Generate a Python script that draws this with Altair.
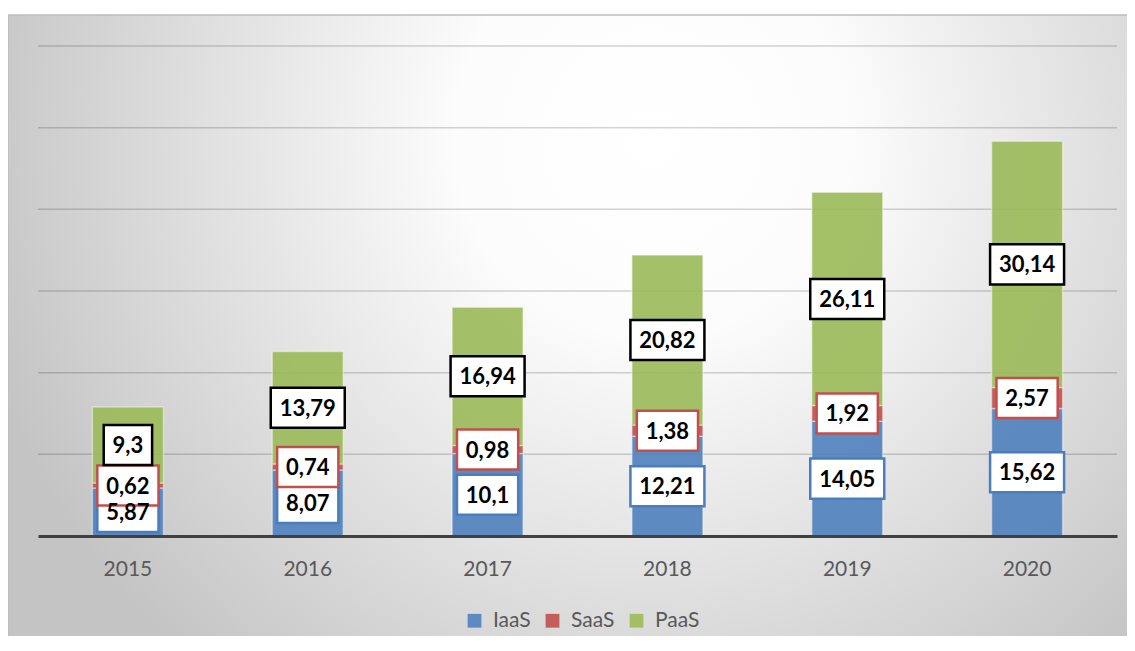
import altair as alt
import pandas as pd

years = ["2015", "2016", "2017", "2018", "2019", "2020"]
series = ["IaaS", "SaaS", "PaaS"]
iaas = [5.87, 8.07, 10.1, 12.21, 14.05, 15.62]
saas = [0.62, 0.74, 0.98, 1.38, 1.92, 2.57]
paas = [9.3, 13.79, 16.94, 20.82, 26.11, 30.14]
gridvals = [10, 20, 30, 40, 50, 60]

colors = ["#4f81bd", "#c0504d", "#9bbb59"]
box_strokes = ["#4a7ebb", "#c0504d", "#000000"]

rows = []
for i, y in enumerate(years):
    base = 0.0
    for k, (s, vals) in enumerate(zip(series, [iaas, saas, paas])):
        v = vals[i]
        rows.append({"year": y, "series": s, "value": v, "ord": k,
                     "mid": base + v / 2, "label": str(v).replace(".", ",")})
        base += v
df = pd.DataFrame(rows)

FONT = "Lato"
W, H = 1079, 490

xenc = alt.X("year:N", title=None, sort=years,
             scale=alt.Scale(paddingInner=0.605, paddingOuter=0.3025),
             axis=alt.Axis(labelAngle=0, ticks=False, domainColor="#404040", domainWidth=3,
                           labelColor="#595959", labelFont=FONT, labelFontSize=21,
                           labelPadding=22, zindex=1, grid=False))
yscale = alt.Scale(domain=[0, 60], nice=False, zero=True)

bg = alt.Chart(pd.DataFrame({"a": [0]})).mark_rect(
    fill={"gradient": "radial", "x1": 0.57, "y1": 0.32, "r1": 0,
          "x2": 0.57, "y2": 0.32, "r2": 0.62,
          "stops": [{"offset": 0, "color": "#ffffff"},
                    {"offset": 0.28, "color": "#fcfcfc"},
                    {"offset": 1, "color": "#c4c4c4"}]},
    stroke="#bdbdbd", strokeWidth=1.5
).encode(x=alt.value(-30), x2=alt.value(1100), y=alt.value(-31), y2=alt.value(620))

grid = alt.Chart(pd.DataFrame({"g": gridvals})).mark_rule(
    stroke="#000000", strokeOpacity=0.17, strokeWidth=1.5
).encode(y=alt.Y("g:Q", scale=yscale, axis=None))

bars = alt.Chart(df).mark_bar(opacity=0.9, stroke="#ffffff", strokeOpacity=0.45, strokeWidth=1.5).encode(
    x=xenc,
    y=alt.Y("value:Q", stack="zero", scale=yscale, axis=None),
    color=alt.Color("series:N", sort=series,
                    scale=alt.Scale(domain=series, range=colors),
                    legend=alt.Legend(title=None, orient="none", legendX=426, legendY=564,
                                      direction="horizontal", symbolType="square",
                                      symbolSize=190, symbolStrokeWidth=0, symbolOpacity=0.9,
                                      labelFont=FONT, labelFontSize=21, labelColor="#595959",
                                      labelOffset=8, columnPadding=11, zindex=1)),
    order=alt.Order("ord:Q"),
)

boxes = alt.Chart(df).transform_calculate(
    lo="datum.mid - 2.45", hi="datum.mid + 2.45", bw="length(datum.label) * 12.8 + 10"
).mark_bar(fill="#ffffff", strokeWidth=2.5).encode(
    x=xenc,
    y=alt.Y("lo:Q", scale=yscale, axis=None),
    y2="hi:Q",
    size=alt.Size("bw:Q", scale=None, legend=None),
    stroke=alt.Stroke("series:N", scale=alt.Scale(domain=series, range=box_strokes), legend=None),
)

texts = alt.Chart(df).mark_text(font=FONT, fontSize=22, fontWeight="bold", color="#000000",
                                baseline="middle", dy=1).encode(
    x=xenc,
    y=alt.Y("mid:Q", scale=yscale, axis=None),
    text="label:N",
)

chart = alt.layer(bg, grid, bars, boxes, texts).properties(
    width=W, height=H,
    autosize=alt.AutoSizeParams(type="none"),
    padding={"left": 30, "top": 38, "right": 10, "bottom": 100},
).configure_view(strokeWidth=0).configure(background="#ffffff")

chart.save("out.html", embed_options={"renderer": "svg", "actions": False})
